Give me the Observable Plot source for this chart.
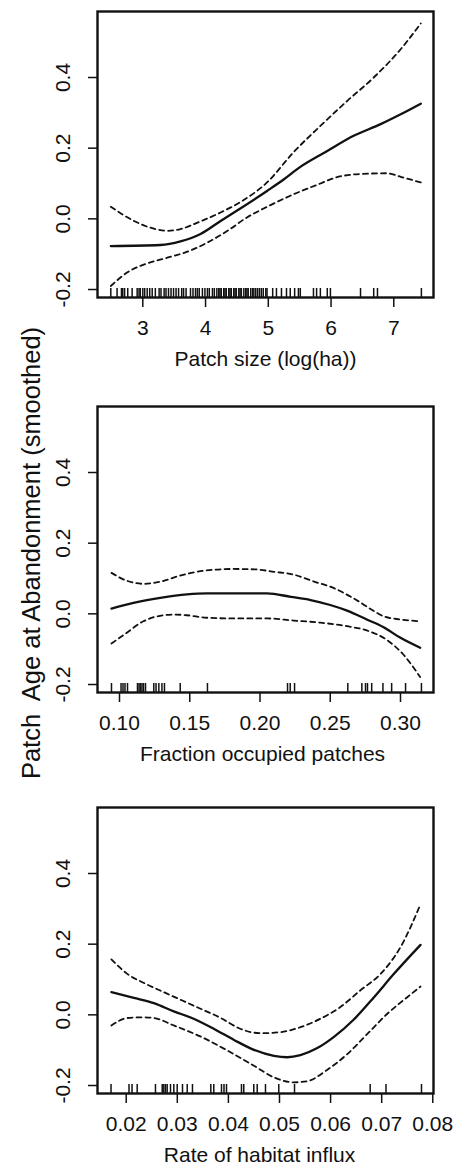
<!DOCTYPE html>
<html>
<head>
<meta charset="utf-8">
<script src="https://cdn.jsdelivr.net/npm/d3@7"></script>
<script src="https://cdn.jsdelivr.net/npm/@observablehq/plot@0.6"></script>
<style>
  body { margin: 0; background: #fff; }
  #wrap { position: relative; width: 459px; height: 1166px; background: #fff;
          font-family: "Liberation Sans", Arial, Helvetica, sans-serif; color: #111; }
  #wrap svg { position: absolute; left: 0; }
  #ylab { position: absolute; white-space: pre; font-size: 25.5px; line-height: normal;
          transform: translate(-50%, -50%) rotate(-90deg); }
</style>
</head>
<body>
<div id="wrap"></div>
<script>
// ---------- shared ----------
const yTitle = "Patch  Age at Abandonment (smoothed)";
const yTicks = [-0.2, 0, 0.2, 0.4];
const yTickLabels = ["-0.2", "0.0", "0.2", "0.4"];
const yDomain = [-0.2226, 0.5868];

// ---------- panel 1: patch size ----------
const p1Title = "Patch size (log(ha))";
const p1XDomain = [2.278, 7.633];
const p1XTicks = [3, 4, 5, 6, 7];
const p1XLabels = ["3", "4", "5", "6", "7"];
const p1Fit = [[2.49,-0.077],[3.28,-0.074],[3.60,-0.064],[3.92,-0.043],[4.24,-0.006],[4.56,0.030],
  [4.98,0.079],[5.25,0.112],[5.51,0.147],[5.94,0.192],[6.36,0.235],[6.79,0.268],[7.11,0.296],[7.43,0.326]];
const p1Upper = [[2.49,0.034],[2.86,-0.006],[3.12,-0.025],[3.39,-0.034],[3.60,-0.029],[3.92,-0.007],
  [4.24,0.018],[4.56,0.048],[4.98,0.103],[5.40,0.188],[5.83,0.263],[6.26,0.334],[6.68,0.400],[7.11,0.480],[7.43,0.553]];
const p1Lower = [[2.49,-0.190],[2.75,-0.152],[3.07,-0.126],[3.39,-0.110],[3.71,-0.093],[4.03,-0.067],
  [4.35,-0.034],[4.66,0.004],[4.98,0.034],[5.41,0.070],[5.83,0.100],[6.04,0.115],[6.47,0.127],[6.89,0.129],[7.11,0.119],[7.43,0.103]];
const p1Rug = [2.49,2.59,2.66,2.68,2.71,2.76,2.83,2.91,2.94,2.96,3.00,3.03,3.07,3.11,3.15,3.20,3.26,3.29,
  3.34,3.37,3.41,3.45,3.49,3.53,3.57,3.62,3.65,3.69,3.76,3.80,3.84,3.87,3.90,3.95,3.99,4.03,4.06,4.11,4.14,
  4.18,4.21,4.23,4.25,4.29,4.31,4.33,4.37,4.39,4.41,4.45,4.47,4.49,4.53,4.55,4.57,4.61,4.64,4.66,4.68,4.72,
  4.75,4.77,4.80,4.83,4.86,4.89,4.92,4.96,4.98,5.07,5.13,5.21,5.29,5.35,5.42,5.48,5.51,5.72,5.77,5.83,5.94,
  5.99,6.47,6.68,6.74,7.44];

// ---------- panel 2: fraction occupied ----------
const p2Title = "Fraction occupied patches";
const p2XDomain = [0.08434, 0.32349];
const p2XTicks = [0.10, 0.15, 0.20, 0.25, 0.30];
const p2XLabels = ["0.10", "0.15", "0.20", "0.25", "0.30"];
const p2Fit = [[0.0943,0.015],[0.110,0.031],[0.129,0.045],[0.148,0.055],[0.162,0.058],[0.181,0.058],
  [0.205,0.058],[0.222,0.048],[0.236,0.039],[0.250,0.025],[0.262,0.009],[0.276,-0.016],[0.288,-0.038],[0.300,-0.068],[0.314,-0.096]];
const p2Upper = [[0.0943,0.116],[0.105,0.094],[0.117,0.085],[0.129,0.091],[0.143,0.108],[0.162,0.123],
  [0.181,0.127],[0.196,0.126],[0.210,0.119],[0.224,0.111],[0.238,0.092],[0.253,0.072],[0.267,0.043],
  [0.281,0.008],[0.288,-0.007],[0.300,-0.016],[0.314,-0.021]];
const p2Lower = [[0.0943,-0.084],[0.105,-0.054],[0.117,-0.021],[0.127,-0.007],[0.139,-0.002],[0.148,-0.004],
  [0.162,-0.011],[0.181,-0.013],[0.205,-0.013],[0.224,-0.019],[0.243,-0.025],[0.262,-0.035],[0.276,-0.047],
  [0.290,-0.073],[0.302,-0.115],[0.314,-0.179]];
const p2Rug = [0.0943,0.1011,0.1025,0.1039,0.1057,0.1128,0.1139,0.1149,0.1160,0.1171,0.1185,0.1244,0.1260,
  0.1280,0.1302,0.1320,0.1432,0.1626,0.2196,0.2215,0.2246,0.2625,0.2725,0.2751,0.2765,0.2795,0.2875,0.2937,
  0.3036,0.3149];

// ---------- panel 3: habitat influx ----------
const p3Title = "Rate of habitat influx";
const p3XDomain = [0.014384, 0.08014];
const p3XTicks = [0.02, 0.03, 0.04, 0.05, 0.06, 0.07, 0.08];
const p3XLabels = ["0.02", "0.03", "0.04", "0.05", "0.06", "0.07", "0.08"];
const p3Fit = [[0.0171,0.064],[0.0215,0.048],[0.0254,0.033],[0.0293,0.010],[0.0332,-0.011],[0.0372,-0.040],
  [0.0411,-0.071],[0.0450,-0.099],[0.0489,-0.116],[0.0515,-0.120],[0.0541,-0.114],[0.0574,-0.094],
  [0.0606,-0.063],[0.0645,-0.014],[0.0685,0.050],[0.0724,0.116],[0.0776,0.198]];
const p3Upper = [[0.0171,0.157],[0.0202,0.116],[0.0235,0.090],[0.0280,0.060],[0.0332,0.026],[0.0385,-0.009],
  [0.0424,-0.040],[0.0463,-0.052],[0.0502,-0.049],[0.0541,-0.035],[0.0580,-0.011],[0.0619,0.022],
  [0.0658,0.069],[0.0698,0.116],[0.0737,0.192],[0.0776,0.313]];
const p3Lower = [[0.0171,-0.030],[0.0202,-0.009],[0.0228,-0.007],[0.0254,-0.009],[0.0293,-0.030],[0.0345,-0.061],
  [0.0398,-0.101],[0.0450,-0.144],[0.0489,-0.177],[0.0528,-0.191],[0.0554,-0.188],[0.0593,-0.156],
  [0.0632,-0.112],[0.0672,-0.054],[0.0711,0.003],[0.0750,0.050],[0.0776,0.080]];
const p3Rug = [0.01703,0.02055,0.02114,0.02215,0.02573,0.02705,0.02736,0.02769,0.02802,0.02867,0.02932,
  0.02998,0.03102,0.03194,0.03297,0.03656,0.03714,0.03865,0.03914,0.03963,0.04256,0.04301,0.04497,0.04564,
  0.04726,0.04986,0.05294,0.06775,0.07084,0.07779];

// ---------- drawing ----------
const FONT = '"Liberation Sans", Arial, Helvetica, sans-serif';
const INK = "#111";
const FS = 21;

function panel(s) {
  const svg = Plot.plot({
    width: 459,
    height: s.height,
    marginTop: 11,
    marginBottom: s.height - 297,
    marginLeft: 97,
    marginRight: 26,
    style: { fontFamily: FONT, fontSize: FS + "px", background: "transparent", color: INK, overflow: "visible" },
    x: { domain: s.xDomain },
    y: { domain: yDomain },
    marks: [
      Plot.ruleX(s.rug, { x: d => d, insetTop: 277, stroke: INK, strokeWidth: 1.5 }),
      Plot.line(s.upper, { x: d => d[0], y: d => d[1], curve: "monotone-x", stroke: INK, strokeWidth: 1.8, strokeDasharray: "5,4" }),
      Plot.line(s.lower, { x: d => d[0], y: d => d[1], curve: "monotone-x", stroke: INK, strokeWidth: 1.8, strokeDasharray: "5,4" }),
      Plot.line(s.fit, { x: d => d[0], y: d => d[1], curve: "monotone-x", stroke: INK, strokeWidth: 2.3 }),
      Plot.frame({ stroke: INK, strokeWidth: 2.4 }),
      Plot.axisX({ ticks: s.xTicks, tickFormat: d => s.xLabels[s.xTicks.indexOf(d)], tickSize: 10, tickPadding: 13,
                   label: null, stroke: INK, strokeWidth: 1.5, fill: INK, fontSize: FS }),
      Plot.axisY({ ticks: yTicks, tickFormat: () => "", tickSize: 9, label: null, stroke: INK, strokeWidth: 1.5 }),
      Plot.text(yTicks, { y: d => d, text: d => yTickLabels[yTicks.indexOf(d)], frameAnchor: "left", dx: -34,
                          rotate: -90, textAnchor: "middle", lineAnchor: "middle", fill: INK, fontSize: FS }),
      Plot.text([s.title], { text: d => d, frameAnchor: "bottom", dy: 61.5, dx: s.titleDx,
                             lineAnchor: "middle", textAnchor: "middle", fill: INK, fontSize: FS })
    ]
  });
  svg.style.top = s.top + "px";
  return svg;
}

const wrap = document.getElementById("wrap");
wrap.appendChild(panel({ top: 0, height: 395, xDomain: p1XDomain, xTicks: p1XTicks, xLabels: p1XLabels,
  fit: p1Fit, upper: p1Upper, lower: p1Lower, rug: p1Rug, title: p1Title, titleDx: 0 }));
wrap.appendChild(panel({ top: 395, height: 401, xDomain: p2XDomain, xTicks: p2XTicks, xLabels: p2XLabels,
  fit: p2Fit, upper: p2Upper, lower: p2Lower, rug: p2Rug, title: p2Title, titleDx: -3 }));
wrap.appendChild(panel({ top: 796, height: 370, xDomain: p3XDomain, xTicks: p3XTicks, xLabels: p3XLabels,
  fit: p3Fit, upper: p3Upper, lower: p3Lower, rug: p3Rug, title: p3Title, titleDx: -6 }));

const yl = document.createElement("div");
yl.id = "ylab";
yl.textContent = yTitle;
yl.style.left = "31px";
yl.style.top = "553px";
wrap.appendChild(yl);
</script>
</body>
</html>
